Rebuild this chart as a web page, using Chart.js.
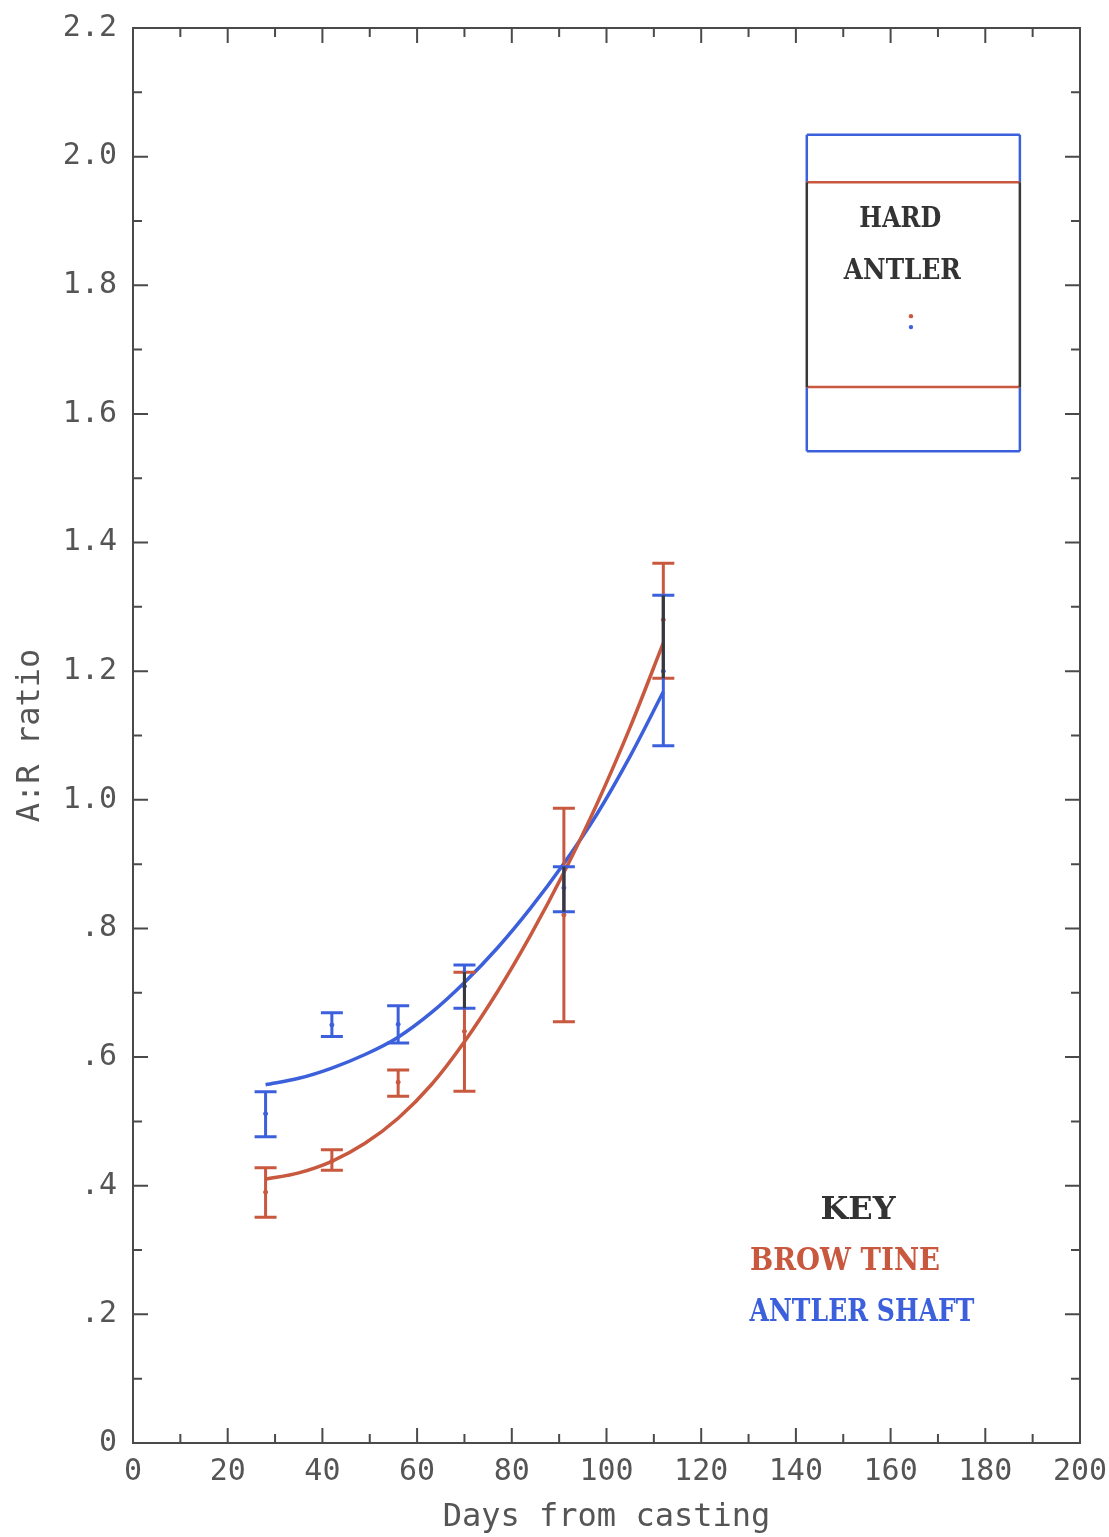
<!DOCTYPE html>
<html>
<head>
<meta charset="utf-8">
<script src="https://cdn.jsdelivr.net/npm/chart.js@4.4.0/dist/chart.umd.min.js"></script>
<style>
  html, body { margin: 0; padding: 0; background: #fff; }
  #wrap { width: 1109px; height: 1537px; position: relative; }
</style>
</head>
<body>
<div id="wrap"><canvas id="chart"></canvas></div>
<script>
// --- data ---
// days from casting for the sampled groups
const days = [28, 42, 56, 70, 91, 112];

// brow tine (red): mean, upper and lower bar ends
const browMean = [0.390, 0.438, 0.561, 0.640, 0.821, 1.280];
const browHigh = [0.428, 0.456, 0.580, 0.732, 0.987, 1.368];
const browLow  = [0.351, 0.424, 0.539, 0.547, 0.655, 1.189];

// antler shaft (blue)
const shaftMean = [0.512, 0.650, 0.651, 0.710, 0.863, 1.200];
const shaftHigh = [0.546, 0.669, 0.680, 0.743, 0.896, 1.318];
const shaftLow  = [0.476, 0.632, 0.622, 0.676, 0.826, 1.084];

// fitted curves, read at these days
const curveDays  = [28, 35, 42, 49, 56, 63, 70, 77, 84, 91, 98, 105, 112];
const browCurve  = [0.410, 0.420, 0.438, 0.466, 0.505, 0.557, 0.624, 0.702, 0.790, 0.887, 0.994, 1.113, 1.244];
const shaftCurve = [0.557, 0.567, 0.583, 0.604, 0.631, 0.669, 0.716, 0.770, 0.832, 0.901, 0.978, 1.068, 1.168];

// hard antler reference box (x range in days, y ranges in ratio)
const hardX = [142.3, 187.3];
const hardBrow = [1.642, 1.960];
const hardShaft = [1.542, 2.034];
const hardDotX = 164.3;
const hardDots = [1.752, 1.735]; // brow, shaft

const RED = '#c8583e';
const BLUE = '#3c60dc';
const INK = '#383838';
const AXIS = '#4a4a4a';
const MONO = '"DejaVu Sans Mono", "Liberation Mono", monospace';
const SERIF = '"DejaVu Serif", "Liberation Serif", serif';

// --- helpers ---
function yLabel(value) {
    const t = Math.round(value * 10);
    if (t % 2 !== 0) return '';
    if (t === 0) return '0';
    const s = (t / 10).toFixed(1);
    return s.startsWith('0') ? s.slice(1) : s;
}

function xLabel(value) {
    return Math.round(value) % 20 === 0 ? String(Math.round(value)) : '';
}

// --- plugin: error bars, hard antler box, frame, inward ticks, key ---
const paperPlugin = {
    id: 'paper',
    beforeDraw(chart) {
        const ctx = chart.ctx;
        ctx.save();
        ctx.fillStyle = '#fff';
        ctx.fillRect(0, 0, chart.width, chart.height);
        ctx.restore();
    },
    afterDatasetsDraw(chart) {
        const ctx = chart.ctx;
        const xs = chart.scales.x, ys = chart.scales.y;
        const cap = 11;

        function bar(x, lo, hi, color) {
            const px = xs.getPixelForValue(x);
            const a = ys.getPixelForValue(lo), b = ys.getPixelForValue(hi);
            ctx.strokeStyle = color;
            ctx.lineWidth = 3;
            ctx.beginPath();
            ctx.moveTo(px, a); ctx.lineTo(px, b);
            ctx.moveTo(px - cap, a); ctx.lineTo(px + cap, a);
            ctx.moveTo(px - cap, b); ctx.lineTo(px + cap, b);
            ctx.stroke();
        }

        ctx.save();
        ctx.lineCap = 'butt';
        days.forEach((d, i) => {
            bar(d, browLow[i], browHigh[i], RED);
            bar(d, shaftLow[i], shaftHigh[i], BLUE);
            // where both bars overlap the ink looks black
            const lo = Math.max(browLow[i], shaftLow[i]);
            const hi = Math.min(browHigh[i], shaftHigh[i]);
            if (hi > lo) {
                const px = xs.getPixelForValue(d);
                ctx.strokeStyle = INK;
                ctx.lineWidth = 3;
                ctx.beginPath();
                ctx.moveTo(px, ys.getPixelForValue(lo));
                ctx.lineTo(px, ys.getPixelForValue(hi));
                ctx.stroke();
            }
        });

        // hard antler box
        const x0 = xs.getPixelForValue(hardX[0]), x1 = xs.getPixelForValue(hardX[1]);
        ctx.lineWidth = 2.5;
        ctx.strokeStyle = BLUE;
        ctx.beginPath();
        ctx.moveTo(x0, ys.getPixelForValue(hardShaft[1])); ctx.lineTo(x1, ys.getPixelForValue(hardShaft[1]));
        ctx.moveTo(x0, ys.getPixelForValue(hardShaft[0])); ctx.lineTo(x1, ys.getPixelForValue(hardShaft[0]));
        ctx.moveTo(x0, ys.getPixelForValue(hardShaft[1])); ctx.lineTo(x0, ys.getPixelForValue(hardBrow[1]));
        ctx.moveTo(x1, ys.getPixelForValue(hardShaft[1])); ctx.lineTo(x1, ys.getPixelForValue(hardBrow[1]));
        ctx.moveTo(x0, ys.getPixelForValue(hardBrow[0])); ctx.lineTo(x0, ys.getPixelForValue(hardShaft[0]));
        ctx.moveTo(x1, ys.getPixelForValue(hardBrow[0])); ctx.lineTo(x1, ys.getPixelForValue(hardShaft[0]));
        ctx.stroke();
        ctx.strokeStyle = RED;
        ctx.beginPath();
        ctx.moveTo(x0, ys.getPixelForValue(hardBrow[1])); ctx.lineTo(x1, ys.getPixelForValue(hardBrow[1]));
        ctx.moveTo(x0, ys.getPixelForValue(hardBrow[0])); ctx.lineTo(x1, ys.getPixelForValue(hardBrow[0]));
        ctx.stroke();
        ctx.strokeStyle = INK;
        ctx.beginPath();
        ctx.moveTo(x0, ys.getPixelForValue(hardBrow[1])); ctx.lineTo(x0, ys.getPixelForValue(hardBrow[0]));
        ctx.moveTo(x1, ys.getPixelForValue(hardBrow[1])); ctx.lineTo(x1, ys.getPixelForValue(hardBrow[0]));
        ctx.stroke();

        const dx = xs.getPixelForValue(hardDotX);
        ctx.fillStyle = RED;
        ctx.beginPath(); ctx.arc(dx, ys.getPixelForValue(hardDots[0]), 2.2, 0, Math.PI * 2); ctx.fill();
        ctx.fillStyle = BLUE;
        ctx.beginPath(); ctx.arc(dx, ys.getPixelForValue(hardDots[1]), 2.2, 0, Math.PI * 2); ctx.fill();

        const cx = (x0 + x1) / 2;
        ctx.fillStyle = '#333';
        ctx.textAlign = 'center';
        ctx.textBaseline = 'middle';
        ctx.font = 'bold 27px ' + SERIF;
        ctx.fillText('HARD', cx - 13, 220, 82);
        ctx.fillText('ANTLER', cx - 11, 272, 117);
        ctx.restore();
    },
    afterDraw(chart) {
        const ctx = chart.ctx;
        const a = chart.chartArea;
        const xs = chart.scales.x, ys = chart.scales.y;
        ctx.save();
        ctx.strokeStyle = AXIS;
        ctx.lineWidth = 2;
        ctx.strokeRect(a.left, a.top, a.right - a.left, a.bottom - a.top);

        ctx.beginPath();
        xs.ticks.forEach(t => {
            const px = xs.getPixelForValue(t.value);
            const len = Math.round(t.value) % 20 === 0 ? 15 : 9;
            ctx.moveTo(px, a.bottom); ctx.lineTo(px, a.bottom - len);
            ctx.moveTo(px, a.top); ctx.lineTo(px, a.top + len);
        });
        ys.ticks.forEach(t => {
            const py = ys.getPixelForValue(t.value);
            const len = Math.round(t.value * 10) % 2 === 0 ? 15 : 9;
            ctx.moveTo(a.left, py); ctx.lineTo(a.left + len, py);
            ctx.moveTo(a.right, py); ctx.lineTo(a.right - len, py);
        });
        ctx.stroke();

        // key
        ctx.textAlign = 'center';
        ctx.textBaseline = 'middle';
        ctx.font = 'bold 32px ' + SERIF;
        ctx.fillStyle = '#333';
        ctx.fillText('KEY', 858, 1211, 77);
        ctx.fillStyle = RED;
        ctx.fillText('BROW TINE', 845, 1262, 190);
        ctx.fillStyle = BLUE;
        ctx.fillText('ANTLER SHAFT', 862, 1313, 225);
        ctx.restore();
    }
};

// --- chart ---
const ctx = document.getElementById('chart').getContext('2d');
new Chart(ctx, {
    type: 'line',
    data: {
        datasets: [
            {
                label: 'Brow tine fit',
                data: curveDays.map((d, i) => ({ x: d, y: browCurve[i] })),
                borderColor: RED,
                borderWidth: 3.5,
                pointRadius: 0,
                cubicInterpolationMode: 'monotone',
                fill: false
            },
            {
                label: 'Antler shaft fit',
                data: curveDays.map((d, i) => ({ x: d, y: shaftCurve[i] })),
                borderColor: BLUE,
                borderWidth: 3.5,
                pointRadius: 0,
                cubicInterpolationMode: 'monotone',
                fill: false
            },
            {
                type: 'scatter',
                label: 'Brow tine',
                data: days.map((d, i) => ({ x: d, y: browMean[i] })),
                backgroundColor: RED,
                borderColor: RED,
                pointRadius: 2
            },
            {
                type: 'scatter',
                label: 'Antler shaft',
                data: days.map((d, i) => ({ x: d, y: shaftMean[i] })),
                backgroundColor: BLUE,
                borderColor: BLUE,
                pointRadius: 2
            }
        ]
    },
    options: {
        responsive: true,
        maintainAspectRatio: false,
        animation: false,
        events: [],
        layout: { padding: { top: 28, right: 29, left: 0, bottom: 0 } },
        plugins: {
            legend: { display: false },
            tooltip: { enabled: false }
        },
        scales: {
            x: {
                type: 'linear',
                min: 0,
                max: 200,
                afterFit: s => { s.height = 94; s.paddingLeft = 0; s.paddingRight = 0; },
                grid: { display: false, drawTicks: false },
                border: { display: false },
                ticks: {
                    stepSize: 10,
                    autoSkip: false,
                    maxRotation: 0,
                    padding: 11,
                    color: '#555',
                    font: { family: MONO, size: 30 },
                    callback: xLabel
                },
                title: {
                    display: true,
                    text: 'Days from casting',
                    color: '#555',
                    font: { family: MONO, size: 32 },
                    padding: { top: 0, bottom: 0 }
                }
            },
            y: {
                type: 'linear',
                min: 0,
                max: 2.2,
                afterFit: s => { s.width = 133; s.paddingTop = 0; s.paddingBottom = 0; },
                grid: { display: false, drawTicks: false },
                border: { display: false },
                ticks: {
                    stepSize: 0.1,
                    autoSkip: false,
                    padding: 16,
                    color: '#555',
                    font: { family: MONO, size: 30 },
                    callback: yLabel
                },
                title: {
                    display: true,
                    text: 'A:R ratio',
                    color: '#555',
                    font: { family: MONO, size: 32 },
                    padding: { top: 11, bottom: 0 }
                }
            }
        }
    },
    plugins: [paperPlugin]
});
</script>
</body>
</html>
